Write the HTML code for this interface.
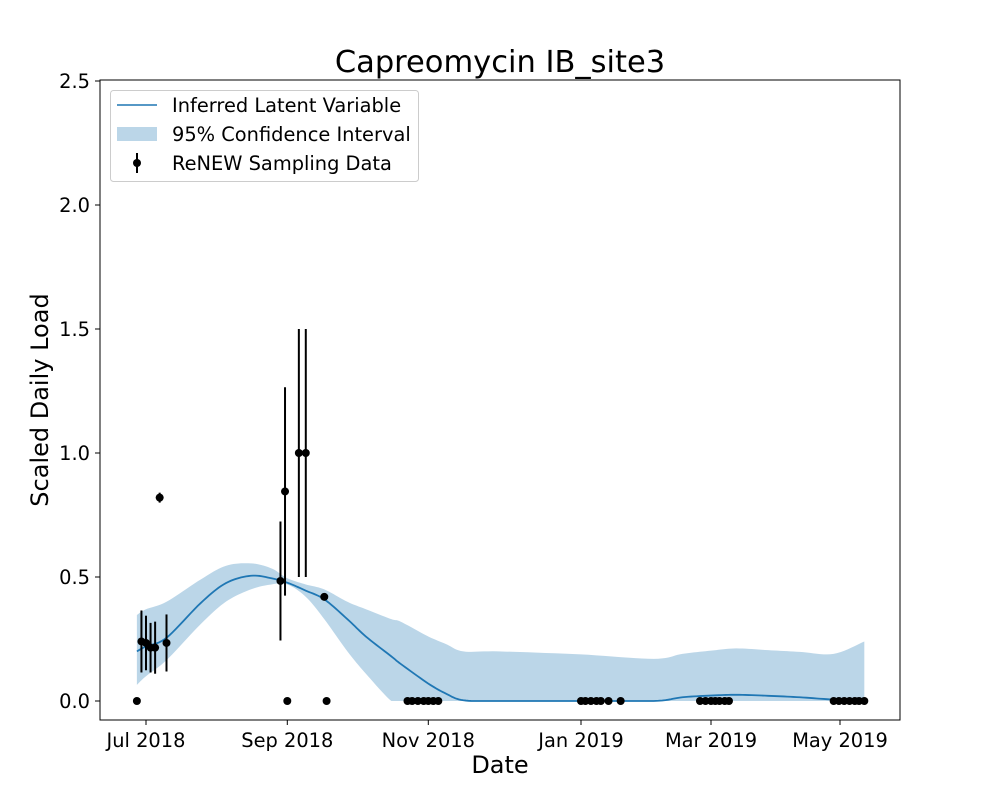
<!DOCTYPE html>
<html><head><meta charset="utf-8"><style>
body{margin:0;background:#fff}
svg text{font-family:"DejaVu Sans","Liberation Sans",sans-serif;fill:#000}
</style></head><body>
<svg id="chart" width="1000" height="800" xmlns="http://www.w3.org/2000/svg">
<rect width="1000" height="800" fill="#fff"/>
<text x="500" y="72" font-size="30.5" text-anchor="middle">Capreomycin IB_site3</text>
<g id="band"></g>
<g id="meanline"></g>
<g id="pts"></g>
<rect x="100" y="80" width="800" height="640" fill="none" stroke="#000" stroke-width="1"/>
<g id="xt"></g>
<g id="yt"></g>
<text x="500" y="773" font-size="24" text-anchor="middle">Date</text>
<text transform="translate(48,400) rotate(-90)" font-size="24" text-anchor="middle">Scaled Daily Load</text>
<g>
<rect x="110.5" y="90.5" width="308" height="91" rx="3" fill="#fff" fill-opacity="0.8" stroke="#ccc"/>
<line x1="117" y1="105" x2="157" y2="105" stroke="#1f77b4" stroke-width="1.5"/>
<text x="172" y="112" font-size="19.4">Inferred Latent Variable</text>
<rect x="117" y="127" width="40" height="14" fill="#1f77b4" fill-opacity="0.3"/>
<text x="172" y="141" font-size="19.4">95% Confidence Interval</text>
<line x1="137" y1="153" x2="137" y2="173" stroke="#000" stroke-width="2"/>
<circle cx="137" cy="163" r="4" fill="#000"/>
<text x="172" y="170" font-size="19.4">ReNEW Sampling Data</text>
</g>
</svg>
<script>
// days since 2018-07-01
const tickDays=[0,62,123,184,243,304];
const tickLabels=["Jul 2018","Sep 2018","Nov 2018","Jan 2019","Mar 2019","May 2019"];
const yTicks=[0,0.5,1.0,1.5,2.0,2.5];
const gridDays=[-4,0,9,24,35,46,55,62,70,78,88,96,107,111,123,130,137,151,184,217,230,243,255,270,285,301,315.5];
const meanVals=[.20,.22,.255,.395,.475,.505,.495,.477,.445,.41,.33,.26,.18,.15,.07,.03,.003,0,0,0,.015,.022,.025,.021,.015,.006,.005];
const upperVals=[.347,.37,.40,.49,.545,.555,.535,.495,.47,.45,.40,.37,.33,.32,.26,.23,.2,.2,.188,.17,.19,.203,.212,.205,.198,.19,.24];
const lowerVals=[.065,.10,.165,.31,.40,.45,.47,.47,.42,.33,.20,.11,0,0,0,0,0,0,0,0,0,0,0,0,0,0,0];
const obsDays=[-4,-2,0,2,4,6,9,59,61,62,67,70,78,79,114,116,118.5,121,123,125,127,184,186,188.5,191,193,196.5,202,238,240.5,243,245,247,249.5,251.5,301,303.5,306,308.5,311,313,315.5];
const obsVals=[0,.24,.234,.215,.215,.82,.234,.484,.845,0,1.0,1.0,.42,0,0,0,0,0,0,0,0,0,0,0,0,0,0,0,0,0,0,0,0,0,0,0,0,0,0,0,0,0];
const obsErr=[0,.125,.11,.1,.105,.02,.115,.24,.42,0,.5,.5,.01,0,0,0,0,0,0,0,0,0,0,0,0,0,0,0,0,0,0,0,0,0,0,0,0,0,0,0,0,0];
const tickPx=[146,287.3,428.3,581,711,840];
function X(d){let i=0;while(i<tickDays.length-2&&d>tickDays[i+1])i++;
 return tickPx[i]+(d-tickDays[i])*(tickPx[i+1]-tickPx[i])/(tickDays[i+1]-tickDays[i]);}
function Y(v){return 701-v*248;}
function smooth(xs,vs,clamp){const out=[];const n=xs.length;
 for(let i=0;i<n-1;i++){const p0=Math.max(0,i-1),p3=Math.min(n-1,i+2);
  for(let s=0;s<10;s++){const t=s/10;
   const f=(a,b,c,d)=>0.5*((2*b)+(-a+c)*t+(2*a-5*b+4*c-d)*t*t+(-a+3*b-3*c+d)*t*t*t);
   let x=f(xs[p0],xs[i],xs[i+1],xs[p3]),v=f(vs[p0],vs[i],vs[i+1],vs[p3]);
   if(clamp)v=Math.max(0,v);out.push([x,v]);}}
 out.push([xs[n-1],vs[n-1]]);return out;}
const NS="http://www.w3.org/2000/svg";
function mk(t,a,p){const e=document.createElementNS(NS,t);for(const k in a)e.setAttribute(k,a[k]);p.appendChild(e);return e;}
const up=smooth(gridDays,upperVals,true),lo=smooth(gridDays,lowerVals,true),me=smooth(gridDays,meanVals,true);
let d="";up.forEach((p,i)=>{d+=(i?"L":"M")+X(p[0]).toFixed(2)+","+Y(p[1]).toFixed(2);});
for(let i=lo.length-1;i>=0;i--)d+="L"+X(lo[i][0]).toFixed(2)+","+Y(lo[i][1]).toFixed(2);
const band=mk("path",{d:d+"Z",fill:"#1f77b4","fill-opacity":"0.3"},document.getElementById("band"));


let m="";me.forEach((p,i)=>{m+=(i?"L":"M")+X(p[0]).toFixed(2)+","+Y(p[1]).toFixed(2);});
const ml=mk("path",{d:m,fill:"none",stroke:"#1f77b4","stroke-width":"1.8"},document.getElementById("meanline"));


const pg=document.getElementById("pts");
obsDays.forEach((od,i)=>{
 if(obsErr[i]>0){const l=mk("line",{x1:X(od),x2:X(od),y1:Y(obsVals[i]+obsErr[i]),y2:Y(obsVals[i]-obsErr[i]),stroke:"#000","stroke-width":"2"},pg);
 
 }
 const c=mk("circle",{cx:X(od),cy:Y(obsVals[i]),r:4,fill:"#000"},pg);
 
 
});
const xt=document.getElementById("xt");
tickDays.forEach((t,i)=>{const x=X(t);
 const l=mk("line",{x1:x,x2:x,y1:720,y2:725,stroke:"#000"},xt);
 
 
 const tx=mk("text",{x:x,y:747,"font-size":"19.4","text-anchor":"middle"},xt);tx.textContent=tickLabels[i];
 
 });
const yt=document.getElementById("yt");
yTicks.forEach(v=>{const y=Y(v);
 const l=mk("line",{x1:95,x2:100,y1:y,y2:y,stroke:"#000"},yt);
 
 
 const tx=mk("text",{x:90,y:y+7,"font-size":"19.4","text-anchor":"end"},yt);tx.textContent=v.toFixed(1);
 
 });
</script>
</body></html>
